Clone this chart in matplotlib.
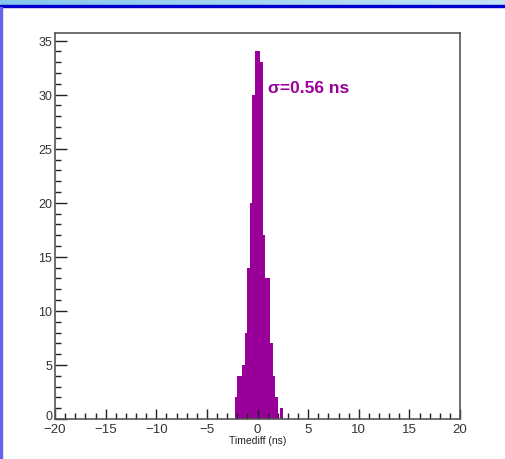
import numpy as np
import matplotlib.pyplot as plt
import matplotlib.transforms as mtransforms
from matplotlib.patches import Rectangle
from matplotlib.ticker import MultipleLocator

# Histogram of time differences (bin width 0.25 ns)
bin_edges = np.arange(-2.25, 2.5001, 0.25)
counts = [2, 4, 4, 5, 8, 14, 20, 30, 34, 34, 33, 17, 13, 13, 7, 4, 2, 0, 1]
sigma_text = "\u03c3=0.56 ns"
x_label = "Timediff (ns)"

plt.rcParams['font.family'] = ['Liberation Sans', 'DejaVu Sans']

W, H = 505, 460
fig = plt.figure(figsize=(W / 100, H / 100), dpi=100)

# window decoration: gradient title strip, blue line, left border
top = fig.add_axes([0, 1 - 5.5 / H, 1, 5.5 / H])
grad = np.linspace(0, 1, 256).reshape(1, -1)
top.imshow(grad, aspect='auto', cmap=plt.matplotlib.colors.LinearSegmentedColormap.from_list(
    'bar', ['#86c8ec', '#c4e4f6']), extent=[0, 1, 0, 1])
top.axis('off')
fig.patches.append(Rectangle((0, 1 - 7.5 / H), 1, 2 / H, transform=fig.transFigure,
                             color='#0000cc', zorder=5))
fig.patches.append(Rectangle((0, 0), 1.5 / W, 1 - 7.5 / H, transform=fig.transFigure,
                             color='#6464ee', zorder=5))

ax = fig.add_axes([55 / W, 40 / H, 405 / W, 386 / H])
centers = (bin_edges[:-1] + bin_edges[1:]) / 2
ax.hist(centers, bins=bin_edges, weights=counts, histtype='stepfilled',
        color='#990099', linewidth=0)

ax.set_xlim(-20, 20)
ax.set_ylim(0, max(counts) * 1.05)
ax.xaxis.set_major_locator(MultipleLocator(5))
ax.xaxis.set_minor_locator(MultipleLocator(1))
ax.yaxis.set_major_locator(MultipleLocator(5))
ax.yaxis.set_minor_locator(MultipleLocator(1))

ax.tick_params(axis='both', which='both', direction='in', color='#222222',
               top=False, right=False, width=1)
ax.tick_params(axis='y', which='major', length=8.6, pad=2, labelsize=9, labelcolor='#333333')
ax.tick_params(axis='y', which='minor', length=4.3)
ax.tick_params(axis='x', which='major', length=7.2, pad=3, labelsize=9.5, labelcolor='#333333')
ax.tick_params(axis='x', which='minor', length=4.3)
for s in ax.spines.values():
    s.set_color('#555555')
    s.set_linewidth(1.2)

# lift the y "0" label a little, like ROOT does
fig.canvas.draw()
shift = mtransforms.ScaledTranslation(0, 4 / 100, fig.dpi_scale_trans)
for lab in ax.get_yticklabels():
    if lab.get_text() == '0':
        lab.set_transform(lab.get_transform() + shift)

ax.set_xlabel(x_label, fontsize=7.5, color='#222222', labelpad=0)
ax.text(1.05, 30.7, sigma_text, color='#990099', fontsize=12.5, fontweight='bold',
        va='center', ha='left')

fig.savefig('out.png', dpi=100)
